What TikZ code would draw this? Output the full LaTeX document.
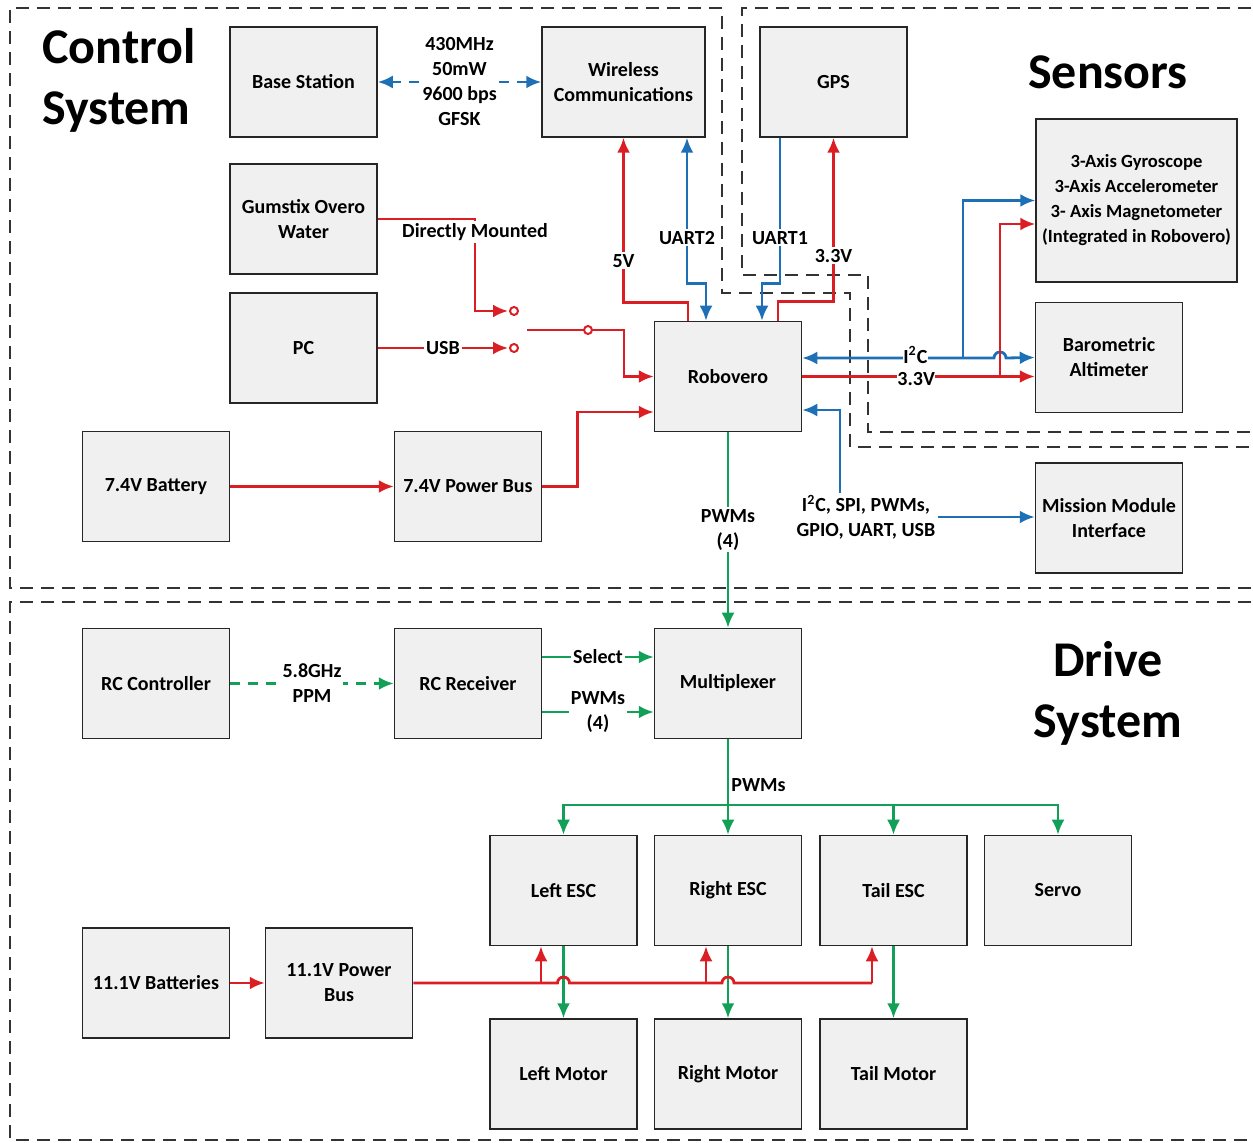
\documentclass[tikz,border=0pt]{standalone}
\usepackage{fontspec}
\setmainfont{Carlito}
\usetikzlibrary{arrows.meta}

\definecolor{pwrred}{RGB}{218,30,36}
\definecolor{sigblue}{RGB}{30,112,182}
\definecolor{ctlgreen}{RGB}{18,160,88}
\definecolor{boxgray}{RGB}{240,240,240}

\tikzset{
  blk/.style={draw=black!85, fill=boxgray, line width=0.75pt, inner sep=1pt,
    minimum width=73.5pt, minimum height=55pt, align=center,
    font=\bfseries\fontsize{10}{12.5}\selectfont},
  lbl/.style={fill=white, inner sep=1pt, align=center,
    font=\bfseries\fontsize{10}{12.5}\selectfont},
  pwr/.style={draw=pwrred, line width=1.4pt},
  sig/.style={draw=sigblue, line width=1.4pt},
  ctl/.style={draw=ctlgreen, line width=1.4pt},
  radio/.style={dash pattern=on 5pt off 4pt},
  zone/.style={draw=black!80, line width=0.8pt, dash pattern=on 6.5pt off 4pt},
  title/.style={font=\bfseries\fontsize{25}{30.5}\selectfont},
  >={Latex[length=7.5pt,width=6.5pt]}
}

\begin{document}
\begin{tikzpicture}[x=0.5pt,y=-0.5pt]
  \useasboundingbox (0,0) rectangle (1253,1143);

  \draw[zone] (1251,588) -- (10,588) -- (10,8) -- (722,8) -- (722,293) -- (850,293) -- (850,447) -- (1251,447);
  \draw[zone] (1251,8) -- (742,8) -- (742,275) -- (868,275) -- (868,432) -- (1251,432);
  \draw[zone] (1251,602) -- (10,602) -- (10,1140) -- (1251,1140);

  \node[title, align=left] (ctltitle) at (119,80) {Control\\System};
  \node[title] (sentitle) at (1108,72) {Sensors};
  \node[title, align=center] (drvtitle) at (1108,693) {Drive\\System};

  \begin{scope}[every node/.style={blk}]
    \node (base)     at (303.5,82)   {Base Station};
    \node[minimum width=81.5pt] (wireless) at (623.5,82) {Wireless\\Communications};
    \node (gps)      at (833.5,82)   {GPS};
    \node (gumstix)  at (303.5,219)  {Gumstix Overo\\Water};
    \node (pc)       at (303.5,348)  {PC};
    \node (robovero) at (728,376.5)  {Robovero};
    \node[minimum width=100.5pt, minimum height=81.5pt, inner sep=0pt,
      font=\bfseries\fontsize{9.3}{12.5}\selectfont] (imu) at (1136.5,200.5)
      {3-Axis Gyroscope\\3-Axis Accelerometer\\3- Axis Magnetometer\\(Integrated in Robovero)};
    \node (baro)     at (1109,357.5) {Barometric\\Altimeter};
    \node (bat74)    at (156,486.5)  {7.4V Battery};
    \node (bus74)    at (468,486.5)  {7.4V Power Bus};
    \node (mission)  at (1109,518)   {Mission Module\\Interface};
    \node (rcc)      at (156,683.5)  {RC Controller};
    \node (rcr)      at (468,683.5)  {RC Receiver};
    \node (mux)      at (728,683.5)  {Multiplexer};
    \node (lesc)     at (563.5,890.5) {Left ESC};
    \node (resc)     at (728,890.5)  {Right ESC};
    \node (tesc)     at (893.5,890.5) {Tail ESC};
    \node (servo)    at (1058,890.5) {Servo};
    \node (bat111)   at (156,983)    {11.1V Batteries};
    \node (bus111)   at (339,983)    {11.1V Power\\Bus};
    \node (lmot)     at (563.5,1074) {Left Motor};
    \node (rmot)     at (728,1074)   {Right Motor};
    \node (tmot)     at (893.5,1074) {Tail Motor};
  \end{scope}

  \draw[sig,radio,<->] (base) -- node[lbl]{430MHz\\50mW\\9600 bps\\GFSK} (wireless);
  \draw[pwr,<-] (wireless.south) -- node[lbl,pos=0.745]{5V} ++(0,165) -| ([xshift=-20pt]robovero.north);
  \draw[sig,<->] ([xshift=31.75pt]wireless.south) -- node[lbl,pos=0.685]{UART2} ++(0,146) -| ([xshift=-11pt]robovero.north);
  \draw[sig,->] ([xshift=-26.75pt]gps.south) -- node[lbl,pos=0.685]{UART1} ++(0,146) -| ([xshift=17pt]robovero.north);
  \draw[pwr,->] ([xshift=25pt]robovero.north) -- ++(0,-19) -| node[lbl,pos=0.64]{3.3V} (gps.south);

  \coordinate (i2cjoin) at (963,358);
  \coordinate (v33join) at (1000,376.5);
  \draw[sig,<->] ([yshift=9.25pt]robovero.east) -- node[lbl,pos=0.59,inner sep=0.2pt,yshift=1.5pt]{I\textsuperscript{2}C} (994,358)
    arc[start angle=180,end angle=0,radius=3pt] -- (baro.west);
  \draw[sig,->] (i2cjoin) |- (imu.west);
  \draw[pwr,->] (robovero.east) -- node[lbl,pos=0.49,inner sep=0.2pt,yshift=-1.5pt]{3.3V} (robovero.east -| baro.west);
  \draw[pwr,->] (v33join) |- ([yshift=-11.75pt]imu.west);

  \node[lbl] (buslbl) at (866,517) {I\textsuperscript{2}C, SPI, PWMs,\\GPIO, UART, USB};
  \draw[sig,->] (buslbl.east) -- (buslbl.east -| mission.west);
  \draw[sig,->] ([xshift=-13pt]buslbl.north) |- ([yshift=-16.75pt]robovero.east);

  \node[lbl] (dmlbl) at (475,232) {Directly Mounted};
  \coordinate (jack1) at (508,311);
  \coordinate (jack2) at (508,348);
  \coordinate (plug) at (527,330);
  \draw[pwr] (gumstix.east) -| (dmlbl.north);
  \draw[pwr,->] (dmlbl.south) |- (jack1);
  \draw[pwr,->] (pc.east) -- node[lbl]{USB} (jack2);
  \draw[pwr,line width=1pt] ([xshift=3pt]jack1) circle[radius=2pt];
  \draw[pwr,line width=1pt] ([xshift=3pt]jack2) circle[radius=2pt];
  \draw[pwr,->] (plug) -- (624,330) |- (robovero.west);
  \draw[pwr,line width=1pt,fill=white] (588,330) circle[radius=2pt];

  \draw[pwr,->] (bat74) -- (bus74);
  \draw[pwr,->] (bus74.east) -- ++(35,0) |- ([yshift=-17.75pt]robovero.west);

  \draw[ctl,->] (robovero) -- node[lbl]{PWMs\\(4)} (mux);
  \draw[ctl,radio,->] (rcc) -- node[lbl]{5.8GHz\\PPM} (rcr);
  \draw[ctl,->] ([yshift=13.25pt]rcr.east) -- node[lbl]{Select} ([yshift=13.25pt]mux.west);
  \draw[ctl,->] ([yshift=-14.25pt]rcr.east) -- node[lbl]{PWMs\\(4)} ([yshift=-14.25pt]mux.west);

  \coordinate (split) at (728,805);
  \draw[ctl] (mux) -- node[lbl,right,pos=0.69]{PWMs} (split);
  \draw[ctl,->] (split) -| (lesc);
  \draw[ctl,->] (split) -- (resc);
  \draw[ctl,->] (split) -| (tesc);
  \draw[ctl,->] (split) -| (servo);
  \draw[ctl,->] (lesc) -- (lmot);
  \draw[ctl,->] (resc) -- (rmot);
  \draw[ctl,->] (tesc) -- (tmot);

  \coordinate (tap1) at (541,983);
  \coordinate (tap2) at (706,983);
  \coordinate (tap3) at (872,983);
  \draw[pwr,->] (bat111) -- (bus111);
  \draw[pwr] (bus111.east) -- (557.5,983) arc[start angle=180,end angle=0,radius=3pt]
    -- (722,983) arc[start angle=180,end angle=0,radius=3pt] -- (tap3);
  \draw[pwr,->] (tap1) -- (tap1 |- lesc.south);
  \draw[pwr,->] (tap2) -- (tap2 |- resc.south);
  \draw[pwr,->] (tap3) -- (tap3 |- tesc.south);
\end{tikzpicture}
\end{document}
